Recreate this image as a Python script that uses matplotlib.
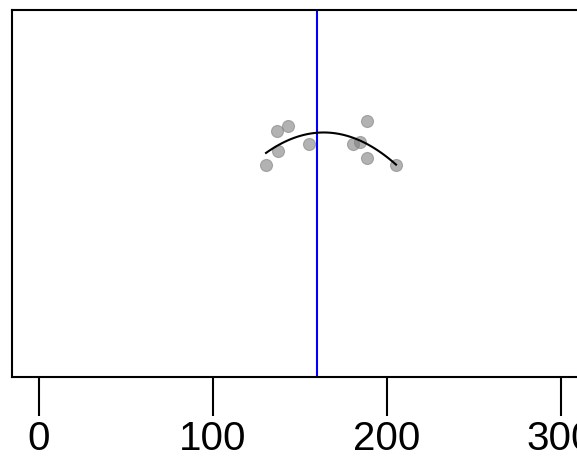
import numpy as np
import matplotlib
matplotlib.use("Agg")
import matplotlib.pyplot as plt

plt.rcParams['font.family'] = ['Liberation Sans', 'DejaVu Sans']

# data
x_vals = [130.7, 137.0, 143.3, 137.6, 155.4, 180.6, 184.7, 188.7, 188.7, 205.4]
y_vals = [0.577, 0.669, 0.683, 0.617, 0.634, 0.634, 0.640, 0.697, 0.596, 0.577]
vline_x = 160
x_ticks = [0, 100, 200, 300]

W, H = 577, 457
fig = plt.figure(figsize=(W / 100, H / 100), dpi=100)
left_px, right_px, top_px, bot_px = 12, 595.4, 10, 377
ax = fig.add_axes([left_px / W, 1 - bot_px / H, (right_px - left_px) / W, (bot_px - top_px) / H])

xmin, xmax = -15.29, 320
ax.set_xlim(xmin, xmax)
ax.set_ylim(0, 1)

ax.axvline(vline_x, color='#0000ff', lw=1.5, zorder=1)

ax.scatter(x_vals, y_vals, s=75, color='#808080', alpha=0.6, edgecolors='#808080',
           linewidths=0.8, zorder=2)

coef = np.polyfit(x_vals, y_vals, 2)
xs = np.linspace(min(x_vals), max(x_vals), 100)
ax.plot(xs, np.polyval(coef, xs), color='black', lw=1.5, zorder=3)

ax.set_yticks([])
ax.set_xticks(x_ticks)
ax.set_xticklabels([str(t) for t in x_ticks])
ax.tick_params(axis='x', length=28, width=1.5, labelsize=29, pad=3, color='black')
for sp in ax.spines.values():
    sp.set_linewidth(1.5)
    sp.set_color('black')

fig.savefig('out.png', dpi=100)
